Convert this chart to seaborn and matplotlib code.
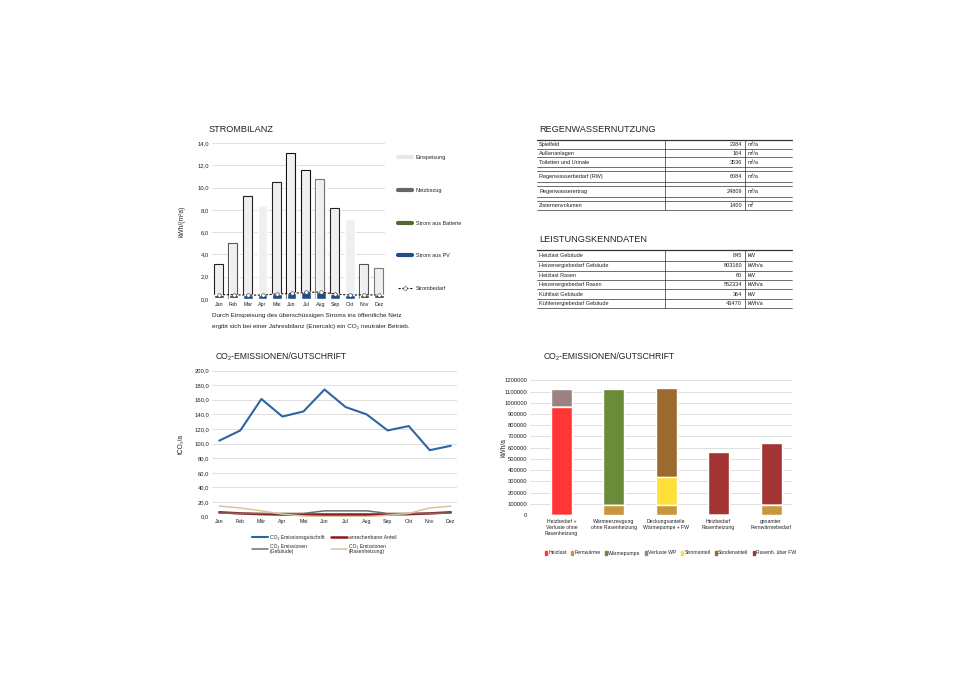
import numpy as np
import pandas as pd
import seaborn as sns
import matplotlib.pyplot as plt
from matplotlib.lines import Line2D
from matplotlib.patches import Patch
from matplotlib.ticker import FuncFormatter

# --- Strombilanz (kWh/(m2a)) ---
monate = ["Jan", "Feb", "Mar", "Apr", "Mai", "Jun", "Jul", "Aug", "Sep", "Okt", "Nov", "Dez"]
einspeisung = [3.15, 5.0, 9.25, 8.4, 10.5, 13.1, 11.6, 10.8, 8.15, 7.2, 3.15, 2.75]
strom_pv = [0.05, 0.12, 0.35, 0.35, 0.45, 0.5, 0.6, 0.6, 0.45, 0.35, 0.08, 0.05]
strom_batterie = [0.28, 0.2, 0.0, 0.0, 0.0, 0.0, 0.0, 0.0, 0.0, 0.0, 0.25, 0.28]
netzbezug = [0.04, 0.03, 0.0, 0.0, 0.0, 0.0, 0.0, 0.0, 0.0, 0.0, 0.03, 0.04]
strombedarf = [0.4, 0.38, 0.35, 0.35, 0.45, 0.5, 0.6, 0.62, 0.45, 0.35, 0.38, 0.35]

# --- CO2 Emissionen / Gutschrift (tCO2/a) ---
monate_co2 = ["Jan", "Feb", "Mär", "Apr", "Mai", "Jun", "Jul", "Aug", "Sep", "Okt", "Nov", "Dez"]
co2_gutschrift = [104, 118, 161, 137, 144, 174, 150, 140, 118, 124, 91, 97]
co2_anteil = [6.0, 4.5, 3.5, 3.0, 3.0, 3.0, 3.0, 3.0, 3.0, 3.5, 4.5, 6.0]
co2_gebaeude = [5.0, 4.5, 4.5, 4.5, 4.5, 8.0, 8.0, 8.0, 4.5, 4.5, 4.5, 5.0]
co2_rasen = [14.5, 12.0, 8.0, 3.5, 1.0, 0.0, 0.0, 0.0, 2.0, 4.5, 12.0, 14.5]

# --- Waermebilanz (kWh/a) ---
kategorien = ["Heizbedarf +\nVerluste ohne\nRasenheizung", "Wärmeerzeugung\nohne Rasenheizung",
              "Deckungsanteile\nWärmepumpe + FW", "Heizbedarf\nRasenheizung", "gesamter\nFernwärmebedarf"]
heizlast = [960000, 0, 0, 0, 0]
fernwaerme = [0, 92000, 90000, 0, 90000]
waermepumpe = [0, 1028000, 0, 0, 0]
verluste_wp = [160000, 0, 0, 0, 0]
stromanteil = [0, 0, 245000, 0, 0]
sondenanteil = [0, 0, 795000, 0, 0]
rasenheizung_fw = [0, 0, 0, 557000, 552000]

# --- Tabellen ---
regen_labels = ["Spielfeld", "Außenanlagen", "Toiletten und Urinale", "Regenwasserbedarf (RW)",
                "Regenwasserertrag", "Zisternenvolumen"]
regen_werte = ["2384", "164", "3536", "6084", "24809", "1400"]
regen_einheiten = ["m³/a", "m³/a", "m³/a", "m³/a", "m³/a", "m³"]

leistung_labels = ["Heizlast Gebäude", "Heizenergiebedarf Gebäude", "Heizlast Rasen",
                   "Heizenergiebedarf Rasen", "Kühllast Gebäude", "Kühlenergiebedarf Gebäude"]
leistung_werte = ["845", "803160", "60", "552334", "364", "43470"]
leistung_einheiten = ["kW", "kWh/a", "kW", "kWh/a", "kW", "kWh/a"]

W, H = 960, 679
sns.set_style("white")
plt.rcParams['font.family'] = ['Liberation Sans', 'DejaVu Sans']

fig = plt.figure(figsize=(9.6, 6.79), dpi=100)


def px_axes(x0, y0, x1, y1):
    # axes from pixel box (top-left origin)
    return fig.add_axes([x0 / W, 1 - y1 / H, (x1 - x0) / W, (y1 - y0) / H])


def style_axes(ax):
    for s in ax.spines.values():
        s.set_visible(False)
    ax.grid(axis='y', color='#d9d9d9', lw=0.6)
    ax.set_axisbelow(True)
    ax.tick_params(length=0, labelsize=4.2, pad=2, colors='#222222')
    ax.set_xlabel("")


def comma(v, _):
    return f"{v:.1f}".replace(".", ",")


# ---------------- Strombilanz ----------------
ax1 = px_axes(211.7, 143, 385, 299)
style_axes(ax1)
sns.barplot(x=monate, y=einspeisung, color='#efefef', saturation=1, width=0.66, ax=ax1, zorder=2)
edge_cols = ['#222', '#555', '#222', 'none', '#222', '#111', '#111', '#777', '#222', 'none', '#555', '#777']
ax1.bar(np.arange(len(monate)) - 0.06, einspeisung, width=0.62, fill=False,
        edgecolor=edge_cols, linewidth=0.8, zorder=3)
stack1 = [(strom_pv, '#1f4e8c'), (strom_batterie, '#2f3a1c'), (netzbezug, '#666666')]
cum1 = np.cumsum([s for s, _ in stack1], axis=0)
for i in reversed(range(len(stack1))):
    sns.barplot(x=monate, y=cum1[i], color=stack1[i][1], saturation=1, width=0.66, ax=ax1, zorder=4)
ax1.plot(np.arange(len(monate)), strombedarf, linestyle=(0, (2, 1.5)), color='#111', lw=0.8,
         marker='o', markersize=2.6, markerfacecolor='white', markeredgecolor='#333',
         markeredgewidth=0.4, zorder=5)
ax1.set_ylim(0, 14)
ax1.set_yticks(np.arange(0, 15, 2))
ax1.yaxis.set_major_formatter(FuncFormatter(comma))
ax1.set_xlim(-0.5, 11.42)
ax1.tick_params(axis='x', labelsize=3.8)
ax1.set_ylabel("kWh/(m²a)", fontsize=4.8)
ax1.yaxis.set_label_coords(-0.15, 0.5)

h1 = [Line2D([0], [0], color='#e8e8e8', lw=3),
      Line2D([0], [0], color='#666666', lw=3),
      Line2D([0], [0], color='#4f6a2a', lw=3),
      Line2D([0], [0], color='#1f4e8c', lw=3),
      Line2D([0], [0], color='#111', lw=0.8, linestyle=(0, (2, 1.5)), marker='o', markersize=2.6,
             markerfacecolor='white', markeredgecolor='#333', markeredgewidth=0.4)]
l1 = ["Einspeisung", "Netzbezug", "Strom aus Batterie", "Strom aus PV", "Strombedarf"]
ax1.legend(h1, l1, loc='upper left', bbox_to_anchor=(393 / W, 1 - 150 / H),
           bbox_transform=fig.transFigure, frameon=False, fontsize=4.0,
           labelspacing=5.0, handlelength=2.6, handletextpad=0.6)

fig.text(209 / W, 1 - 129 / H, "STROMBILANZ", fontsize=6.6, va='center', color='#222')
fig.text(212 / W, 1 - 316 / H, "Durch Einspeisung des überschüssigen Stroms ins öffentliche Netz",
         fontsize=4.6, va='center', color='#222')
fig.text(212 / W, 1 - 326 / H, "ergibt sich bei einer Jahresbilanz (Enercalc) ein CO₂ neutraler Betrieb.",
         fontsize=4.6, va='center', color='#222')

# ---------------- CO2 Linien ----------------
ax2 = px_axes(211.7, 370.5, 456.7, 516.7)
style_axes(ax2)
x2 = np.arange(len(monate_co2))
sns.lineplot(x=x2, y=co2_anteil, color='#8b1a1a', lw=1.8, ax=ax2, label="anrechenbarer Anteil")
sns.lineplot(x=x2, y=co2_gebaeude, color='#707070', lw=1.1, ax=ax2, label="CO₂ Emissionen\n(Gebäude)")
sns.lineplot(x=x2, y=co2_rasen, color='#d8c49a', lw=1.1, ax=ax2, label="CO₂ Emissionen\n(Rasenheizung)")
sns.lineplot(x=x2, y=co2_gutschrift, color='#2e65a3', lw=1.5, ax=ax2, label="CO₂ Emissionsgutschrift")
ax2.set_xticks(x2)
ax2.set_xticklabels(monate_co2)
ax2.set_xlim(-0.36, 11.28)
ax2.set_ylim(0, 200)
ax2.set_yticks(np.arange(0, 201, 20))
ax2.yaxis.set_major_formatter(FuncFormatter(comma))
ax2.tick_params(axis='x', labelsize=3.8)
ax2.set_ylabel("tCO₂/a", fontsize=4.8)
ax2.yaxis.set_label_coords(-0.11, 0.5)
hh, ll = ax2.get_legend_handles_labels()
# column-major fill: row 1 = Gutschrift, Anteil; row 2 = Gebaeude, Rasen
order = [3, 1, 0, 2]
ax2.legend([hh[i] for i in order], [ll[i] for i in order], loc='upper center', ncol=2,
           bbox_to_anchor=(0.46, -0.095), frameon=False, fontsize=3.6, handlelength=3.2,
           columnspacing=1.3, handletextpad=0.4, labelspacing=0.7)

fig.text(216 / W, 1 - 357 / H, "CO₂-EMISSIONEN/GUTSCHRIFT", fontsize=6.2, va='center', color='#222')

# ---------------- Waermebilanz Balken ----------------
ax3 = px_axes(530, 380.3, 792, 515)
style_axes(ax3)
stapel = [("Fernwärme", fernwaerme, '#c9963c'), ("Heizlast", heizlast, '#ff3636'),
          ("Stromanteil", stromanteil, '#ffdf3a'), ("Wärmepumpe", waermepumpe, '#6a8c3a'),
          ("Sondenanteil", sondenanteil, '#9c6a2e'), ("Rasenh. über FW", rasenheizung_fw, '#a33434'),
          ("Verluste WP", verluste_wp, '#9e8282')]
cum3 = np.cumsum([s for _, s, _ in stapel], axis=0)
for i in reversed(range(len(stapel))):
    sns.barplot(x=kategorien, y=cum3[i], color=stapel[i][2], saturation=1, width=0.4, ax=ax3)
ax3.set_xlim(-0.6, 4.4)
ax3.set_ylim(0, 1200000)
ax3.set_yticks(np.arange(0, 1200001, 100000))
ax3.yaxis.set_major_formatter(FuncFormatter(lambda v, _: f"{int(v)}"))
ax3.tick_params(axis='x', labelsize=3.7, pad=3)
ax3.set_ylabel("kWh/a", fontsize=4.8)
ax3.yaxis.set_label_coords(-0.085, 0.5)
cols = {n: c for n, _, c in stapel}
leg3 = ["Heizlast", "Fernwärme", "Wärmepumpe", "Verluste WP", "Stromanteil", "Sondenanteil", "Rasenh. über FW"]
ax3.legend([Patch(color=cols[n]) for n in leg3], leg3, loc='center left', ncol=7,
           bbox_to_anchor=(542 / W, 1 - 553 / H), bbox_transform=fig.transFigure,
           frameon=False, fontsize=3.7, handlelength=0.5, handleheight=0.8,
           handletextpad=0.2, columnspacing=0.8, borderpad=0)

fig.text(544 / W, 1 - 357 / H, "CO₂-EMISSIONEN/GUTSCHRIFT", fontsize=6.2, va='center', color='#222')

# ---------------- Tabellen ----------------
axt = fig.add_axes([0, 0, 1, 1])
axt.set_xlim(0, W)
axt.set_ylim(H, 0)
axt.axis('off')
axt.set_zorder(-1)


def tabelle(titel, titel_y, labels, werte, einheiten, linien, zeilen_y):
    axt.text(539, titel_y, titel, fontsize=6.6, va='center', color='#222')
    for k, y in enumerate(linien):
        axt.plot([537, 792], [y, y], color='#333', lw=0.9 if k == 0 else 0.5)
    axt.plot([665, 665], [linien[0], linien[-1]], color='#333', lw=0.5)
    axt.plot([745, 745], [linien[0], linien[-1]], color='#333', lw=0.5)
    for lab, wert, einh, y in zip(labels, werte, einheiten, zeilen_y):
        axt.text(539, y, lab, fontsize=4.0, va='center', color='#222')
        axt.text(742, y, wert, fontsize=4.0, va='center', ha='right', color='#222')
        axt.text(748, y, einh, fontsize=4.0, va='center', color='#222')


tabelle("REGENWASSERNUTZUNG", 129, regen_labels, regen_werte, regen_einheiten,
        [140, 149.3, 157.3, 166.7, 170.7, 182, 185.5, 197.3, 200.5, 210],
        [144.7, 153.3, 162, 176.5, 191.5, 205.3])
tabelle("LEISTUNGSKENNDATEN", 239, leistung_labels, leistung_werte, leistung_einheiten,
        [250, 260.7, 270.7, 280, 289, 299, 308.3],
        [255.3, 265.7, 275.3, 284.5, 294, 303.7])

fig.savefig("out.png", dpi=100)
